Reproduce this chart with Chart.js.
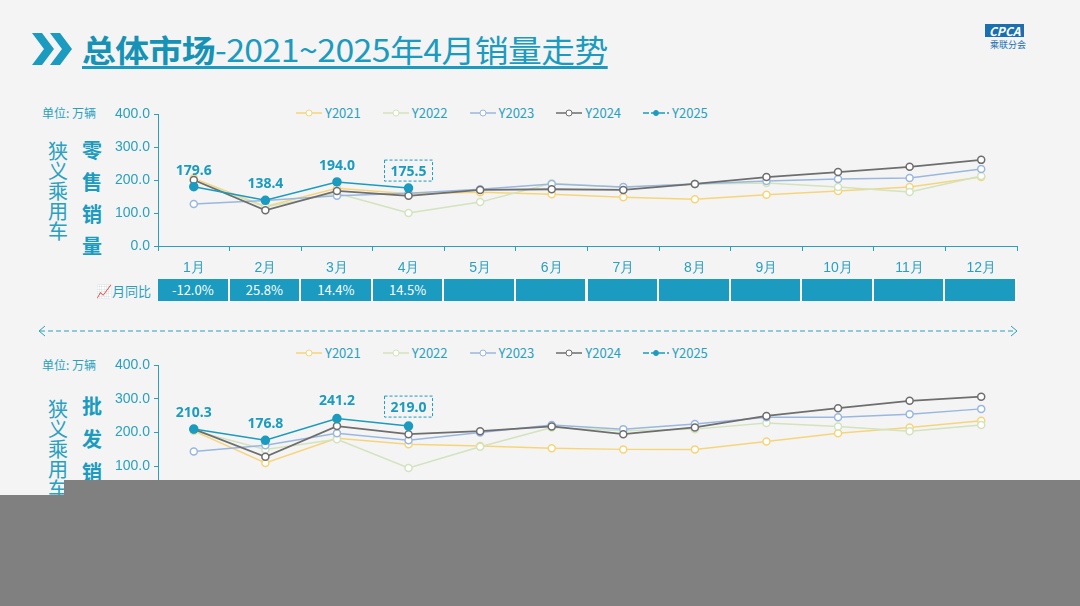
<!DOCTYPE html>
<html><head><meta charset="utf-8">
<script src="https://cdn.jsdelivr.net/npm/chart.js@4"></script>
<style>
body{margin:0;width:1080px;height:606px;background:#f4f4f4;font-family:"Noto Sans CJK SC","Noto Sans",sans-serif;position:relative;overflow:hidden}
.abs{position:absolute}
.title{left:82px;top:26px;font-size:31px;color:#1a9bbf;text-decoration:underline;text-underline-offset:4px;letter-spacing:-0.5px;white-space:nowrap;transform:scaleX(1.09);transform-origin:left}
.title b{color:#1592b5}
.vert{color:#2aa0c0;font-size:20px;line-height:20px;width:22px;text-align:center}
.vb{color:#1a9bbf;font-weight:bold;font-size:20px;width:22px;text-align:center}
.unit{font-size:12px;color:#2aa0c0}
.legend{font-size:13px;color:#2aa0c0;display:flex;gap:22px;align-items:center}
.legend span{display:flex;align-items:center;gap:3px}
.cell{position:absolute;top:279px;height:22px;background:#1a9bbf;color:#fff;font-size:13px;text-align:center;line-height:22px;border-right:2px solid #fff;box-sizing:border-box}
</style></head><body>
<svg class="abs" style="left:30px;top:31px" width="46" height="36"><path d="M2 2h10l12 16-12 16H2l12-16z" fill="#1a9bbf"/><path d="M20 2h10l12 16-12 16H20l12-16z" fill="#1a9bbf"/></svg>
<div class="abs title"><b>总体市场</b>-2021~2025年4月销量走势</div>
<div class="abs" style="left:985px;top:24px;font-size:12px;font-weight:bold;font-style:italic;color:#fff;background:#1a6fb0;padding:0 4px;line-height:13px">CPCA</div>
<div class="abs" style="left:990px;top:38px;font-size:9px;color:#1a6fb0">乘联分会</div>

<div class="abs unit" style="left:42px;top:104px">单位: 万辆</div>
<div class="abs vert" style="left:47px;top:141px">狭<br>义<br>乘<br>用<br>车</div>
<div class="abs vb" style="left:81px;top:134px;line-height:32px">零<br>售<br>销<br>量</div>
<div class="abs legend" id="lg1" style="left:296px;top:103px"></div>
<div class="abs" style="left:96px;top:281px;font-size:13px;color:#2aa0c0">📈月同比</div>
<div id="cells"></div>
<div class="abs" style="left:0;top:95px;width:1030px;height:185px"><canvas id="c1"></canvas></div>

<svg class="abs" style="left:36px;top:325px" width="984" height="12"><path d="M4 6H980" stroke="#2aa0c0" stroke-dasharray="5 3"/><path d="M9 1L3 6l6 5M975 1l6 5-6 5" stroke="#2aa0c0" fill="none"/></svg>

<div class="abs legend" id="lg2" style="left:296px;top:343px"></div>
<div class="abs unit" style="left:42px;top:356px">单位: 万辆</div>
<div class="abs vert" style="left:47px;top:399px">狭<br>义<br>乘<br>用<br>车</div>
<div class="abs vb" style="left:81px;top:389px;line-height:33px">批<br>发<br>销<br>量</div>
<div class="abs" style="left:0;top:346px;width:1030px;height:188px"><canvas id="c2"></canvas></div>

<div class="abs" style="left:64px;top:480px;width:1016px;height:126px;background:#808080"></div>
<div class="abs" style="left:0;top:495px;width:64px;height:111px;background:#808080"></div>
<script>
const months = ['1月','2月','3月','4月','5月','6月','7月','8月','9月','10月','11月','12月'];
const yoy = ['-12.0%','25.8%','14.4%','14.5%','','','','','','','',''];
const years = ['Y2021','Y2022','Y2023','Y2024','Y2025'];
const colors = ['#f6d57a','#d2e3bd','#9ab7e0','#6e6e6e','#1a9bbf'];

const retail2021 = [205,120,175,158,163,157,148,142,155,167,179,209];
const retail2022 = [200,118,160,100,133,190,178,188,191,179,164,212];
const retail2023 = [127,138,152,160,172,188,179,188,197,203,206,233];
const retail2024 = [200,108,167,152,170,172,170,188,209,224,240,261];
const retail2025 = [179.6,138.4,194.0,175.5];

const whole2021 = [205,110,183,165,160,153,150,150,173,198,215,235];
const whole2022 = [205,150,180,95,158,215,205,210,228,218,204,222];
const whole2023 = [144,162,198,177,200,222,210,225,245,245,254,270];
const whole2024 = [210,128,219,195,204,218,195,215,249,272,294,306];
const whole2025 = [210.3,176.8,241.2,219.0];

const yTicks = [0,100,200,300,400];

function legend(id){
  document.getElementById(id).innerHTML = years.map((y,i)=>{
    const fill = i===4 ? colors[i] : '#fff';
    const dash = i===4 ? 'stroke-dasharray="6 2"' : '';
    return `<span><svg width="26" height="10"><path d="M0 5H26" stroke="${colors[i]}" stroke-width="1.5" ${dash}/><circle cx="13" cy="5" r="${i===4?2.5:3}" fill="${fill}" stroke="${colors[i]}"/></svg>${y}</span>`;
  }).join('');
}
legend('lg1'); legend('lg2');

const step = (1017-158)/12;
document.getElementById('cells').innerHTML = yoy.map((t,i)=>
  `<div class="cell" style="left:${158+i*step}px;width:${step}px">${t}</div>`).join('');

const labelPlugin = {
  id:'labels',
  afterDatasetsDraw(chart){
    const ctx = chart.ctx, meta = chart.getDatasetMeta(4);
    ctx.save();
    ctx.font = 'bold 14px "Noto Sans", sans-serif';
    ctx.fillStyle = '#1a9bbf'; ctx.textAlign = 'center';
    meta.data.forEach((p,i)=>{
      const v = chart.data.datasets[4].data[i];
      const y = p.y - chart.options.plugins.labels.offs[i];
      ctx.fillText(v.toFixed(1), p.x, y);
      if(i===3){
        ctx.setLineDash([3,2]); ctx.strokeStyle='#1a9bbf'; ctx.lineWidth=1;
        ctx.strokeRect(p.x-24, y-16, 48, 21);
      }
    });
    ctx.restore();
  }
};

function makeChart(id, series, offs){
  const ds = series.map((d,i)=>({
    label: years[i], data: d, borderColor: colors[i],
    backgroundColor: i===4 ? colors[i] : '#fff',
    pointBackgroundColor: i===4 ? colors[i] : '#fff',
    pointBorderColor: colors[i], pointBorderWidth: 1.5,
    pointRadius: i===4 ? 4 : 3.5, borderWidth: i===3 ? 1.8 : 1.5,
    tension: 0, order: 5-i
  }));
  return new Chart(document.getElementById(id), {
    type:'line',
    data:{labels: months, datasets: ds},
    plugins:[labelPlugin],
    options:{
      responsive:true, maintainAspectRatio:false, animation:false,
      layout:{padding:{top:19,right:13,left:100}},
      plugins:{legend:{display:false}, tooltip:{enabled:false}, labels:{offs}},
      scales:{
        x:{offset:true,
           grid:{display:true,drawOnChartArea:false,offset:true,color:'#2aa0c0',tickLength:5},
           border:{color:'#2aa0c0'},
           ticks:{color:'#2aa0c0',font:{size:14},padding:9},
           afterFit(s){ s.height = 34; }},
        y:{min:0,max:400,afterBuildTicks(s){ s.ticks = yTicks.map(v=>({value:v})); },
           grid:{display:true,drawOnChartArea:false,color:'#2aa0c0',tickLength:4},
           border:{color:'#2aa0c0'},
           ticks:{color:'#2aa0c0',font:{size:14},callback:v=>v.toFixed(1),padding:4},
           afterFit(s){ s.width = 58; }}
      }
    }
  });
}
makeChart('c1',[retail2021,retail2022,retail2023,retail2024,retail2025],[12,12,12,12]);
makeChart('c2',[whole2021,whole2022,whole2023,whole2024,whole2025],[12,12,14,14]);
</script>
</body></html>
